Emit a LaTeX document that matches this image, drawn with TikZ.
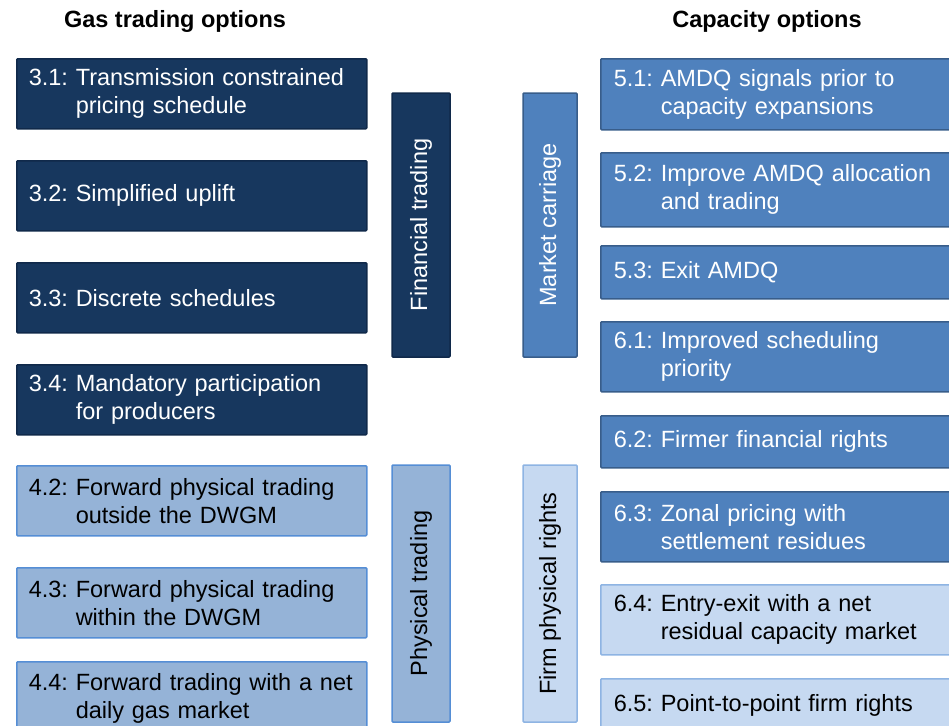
\documentclass[tikz,border=0pt]{standalone}
\usepackage{fontspec}
\setmainfont{Liberation Sans}
\frenchspacing
\definecolor{darkfill}{HTML}{17375E}
\definecolor{darkline}{HTML}{10294A}
\definecolor{midfill}{HTML}{4F81BD}
\definecolor{midline}{HTML}{385D8A}
\definecolor{lightfill}{HTML}{95B3D7}
\definecolor{lightline}{HTML}{558ED5}
\definecolor{palefill}{HTML}{C6D9F1}
\definecolor{paleline}{HTML}{8EB4E3}
\tikzset{
  base/.style={draw, line width=1.5pt, rectangle, rounded corners=1pt,
    font=\fontsize{23.5}{28}\selectfont\frenchspacing, align=left, inner ysep=0pt},
  lbox/.style={base, anchor=north west, minimum width=350, text width=326, inner xsep=12},
  rbox/.style={base, anchor=north west, minimum width=362, text width=336, inner xsep=13},
  darkbox/.style={fill=darkfill, draw=darkline, text=white},
  midbox/.style={fill=midfill, draw=midline, text=white},
  lightbox/.style={fill=lightfill, draw=lightline, text=black},
  palebox/.style={fill=palefill, draw=paleline, text=black},
  bar/.style={base, align=center, rotate=90, inner xsep=0pt},
  title/.style={font=\fontsize{23.5}{28}\selectfont\bfseries, text=black}
}
\begin{document}
\begin{tikzpicture}[x=1pt,y=-1pt]
\useasboundingbox (0,0) rectangle (949,725);
\clip (0,0) rectangle (949,725);
% titles
\node[title] (tl) at (175,21) {Gas trading options};
\node[title] (tr) at (767,21) {Capacity options};
% left column
\node[lbox, darkbox, minimum height=70] (t31) at (16,58) {\mbox{3.1: Transmission constrained}\\\mbox{\hphantom{3.1: }pricing schedule}};
\node[lbox, darkbox, minimum height=70] (t32) at (16,160) {3.2: Simplified uplift};
\node[lbox, darkbox, minimum height=70] (t33) at (16,262) {3.3: Discrete schedules};
\node[lbox, darkbox, minimum height=70] (t34) at (16,364) {\mbox{3.4: Mandatory participation}\\\mbox{\hphantom{3.4: }for producers}};
\node[lbox, lightbox, minimum height=70] (t42) at (16,465) {\mbox{4.2: Forward physical trading}\\\mbox{\hphantom{4.2: }outside the DWGM}};
\node[lbox, lightbox, minimum height=70] (t43) at (16,567) {\mbox{4.3: Forward physical trading}\\\mbox{\hphantom{4.3: }within the DWGM}};
\node[lbox, lightbox, minimum height=73] (t44) at (16,661) {\mbox{4.4: Forward trading with a net}\\\mbox{\hphantom{4.4: }daily gas market}};
% bars
\node[bar, darkbox, minimum width=264, minimum height=58] (fin) at (421,225) {Financial trading};
\node[bar, midbox, minimum width=264, minimum height=54] (mc) at (550,225) {Market carriage};
\node[bar, lightbox, minimum width=257, minimum height=58] (phys) at (421,593.5) {Physical trading};
\node[bar, palebox, minimum width=257, minimum height=54] (firm) at (550,593.5) {Firm physical rights};
% right column
\node[rbox, midbox, minimum height=71] (c51) at (600,58) {\mbox{5.1: AMDQ signals prior to}\\\mbox{\hphantom{5.1: }capacity expansions}};
\node[rbox, midbox, minimum height=74] (c52) at (600,152) {\mbox{5.2: Improve AMDQ allocation}\\\mbox{\hphantom{5.2: }and trading}};
\node[rbox, midbox, minimum height=53] (c53) at (600,245) {5.3: Exit AMDQ};
\node[rbox, midbox, minimum height=70] (c61) at (600,321) {\mbox{6.1: Improved scheduling}\\\mbox{\hphantom{6.1: }priority}};
\node[rbox, midbox, minimum height=52] (c62) at (600,415) {6.2: Firmer financial rights};
\node[rbox, midbox, minimum height=70] (c63) at (600,491) {\mbox{6.3: Zonal pricing with}\\\mbox{\hphantom{6.3: }settlement residues}};
\node[rbox, palebox, minimum height=70] (c64) at (600,584) {\mbox{6.4: Entry-exit with a net}\\\mbox{\hphantom{6.4: }residual capacity market}};
\node[rbox, palebox, minimum height=54] (c65) at (600,678) {6.5: Point-to-point firm rights};
\end{tikzpicture}
\end{document}
